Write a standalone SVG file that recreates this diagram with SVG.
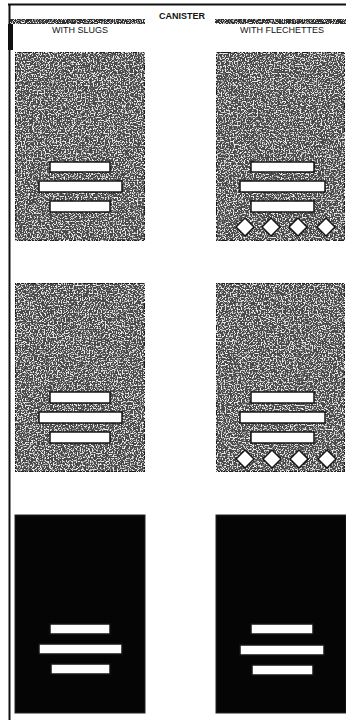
<svg xmlns="http://www.w3.org/2000/svg" width="346" height="723" viewBox="0 0 346 723">
  <defs>
    <filter id="grain" x="0" y="0" width="100%" height="100%">
      <feTurbulence type="fractalNoise" baseFrequency="0.75" numOctaves="2" seed="7" result="n"/>
      <feColorMatrix in="n" type="matrix" values="0 0 0 0 0.85  0 0 0 0 0.85  0 0 0 0 0.85  0 0 0 6 -3.0" result="w"/>
      <feComposite in="w" in2="SourceGraphic" operator="in" result="wc"/>
      <feMerge><feMergeNode in="SourceGraphic"/><feMergeNode in="wc"/></feMerge>
    </filter>
    <filter id="band" x="0" y="0" width="100%" height="100%">
      <feTurbulence type="fractalNoise" baseFrequency="0.9" numOctaves="2" seed="2" result="n"/>
      <feColorMatrix in="n" type="matrix" values="0 0 0 0 1  0 0 0 0 1  0 0 0 0 1  0 0 0 5 -2.6" result="w"/>
      <feComposite in="w" in2="SourceGraphic" operator="in" result="wc"/>
      <feMerge><feMergeNode in="SourceGraphic"/><feMergeNode in="wc"/></feMerge>
    </filter>
  </defs>
  <style>
    .gray { fill: #4a4a4a; stroke: #111; stroke-width: 1.5; filter: url(#grain); }
    .dark { fill: #050505; stroke: #222; stroke-width: 1; }
    .bar { fill: #fff; stroke: #151515; stroke-width: 1.5; }
    .dia { fill: #fff; stroke: #151515; stroke-width: 1.5; }
    .hdr { font-family: "Liberation Sans", Arial, sans-serif; font-size: 9px; fill: #111; text-anchor: middle; }
    .frame { stroke: #111; fill: none; }
  </style>
  <rect width="346" height="723" fill="#fff"/>

  <g id="frame">
    <line class="frame" x1="8" y1="4.5" x2="346" y2="4.5" stroke-width="2"/>
    <line class="frame" x1="9.5" y1="4" x2="9.5" y2="720" stroke-width="2"/>
    <rect x="8" y="24" width="5" height="26" fill="#111"/>
    <rect x="10" y="19" width="135" height="5" fill="#333" filter="url(#band)"/>
    <rect x="215" y="19" width="131" height="5" fill="#333" filter="url(#band)"/>
  </g>

  <g id="labels">
    <text class="hdr" x="182" y="19" font-weight="bold" font-size="9.5">CANISTER</text>
    <text class="hdr" x="80" y="33" font-size="8.5">WITH SLUGS</text>
    <text class="hdr" x="282" y="33" font-size="8.5">WITH FLECHETTES</text>
  </g>

  <g id="slugs-1">
    <rect class="gray" x="15" y="52" width="130" height="189"/>
    <rect class="bar" x="50" y="162" width="60" height="10"/>
    <rect class="bar" x="39" y="181" width="83" height="11"/>
    <rect class="bar" x="50" y="201" width="60" height="11"/>
  </g>

  <g id="flechettes-1">
    <rect class="gray" x="216" y="52" width="129" height="189"/>
    <rect class="bar" x="251" y="162" width="63" height="10"/>
    <rect class="bar" x="240" y="181" width="85" height="11"/>
    <rect class="bar" x="251" y="201" width="63" height="11"/>
    <path class="dia" d="M245 218 L254 227 L245 236 L236 227 Z"/>
    <path class="dia" d="M271 218 L280 227 L271 236 L262 227 Z"/>
    <path class="dia" d="M298 218 L307 227 L298 236 L289 227 Z"/>
    <path class="dia" d="M326 218 L335 227 L326 236 L317 227 Z"/>
  </g>

  <g id="slugs-2">
    <rect class="gray" x="15" y="283" width="130" height="189"/>
    <rect class="bar" x="50" y="392" width="60" height="11"/>
    <rect class="bar" x="39" y="412" width="83" height="11"/>
    <rect class="bar" x="50" y="432" width="60" height="11"/>
  </g>

  <g id="flechettes-2">
    <rect class="gray" x="216" y="283" width="129" height="189"/>
    <rect class="bar" x="251" y="392" width="63" height="11"/>
    <rect class="bar" x="240" y="412" width="85" height="11"/>
    <rect class="bar" x="251" y="432" width="63" height="11"/>
    <path class="dia" d="M245 450 L254 459 L245 468 L236 459 Z"/>
    <path class="dia" d="M272 450 L281 459 L272 468 L263 459 Z"/>
    <path class="dia" d="M299 450 L308 459 L299 468 L290 459 Z"/>
    <path class="dia" d="M327 450 L336 459 L327 468 L318 459 Z"/>
  </g>

  <g id="slugs-3">
    <rect class="dark" x="15" y="515" width="130" height="198"/>
    <rect class="bar" x="50" y="624" width="60" height="10"/>
    <rect class="bar" x="39" y="644" width="83" height="10"/>
    <rect class="bar" x="51" y="664" width="59" height="10"/>
  </g>

  <g id="flechettes-3">
    <rect class="dark" x="216" y="515" width="130" height="198"/>
    <rect class="bar" x="251" y="624" width="62" height="10"/>
    <rect class="bar" x="240" y="645" width="84" height="10"/>
    <rect class="bar" x="252" y="665" width="61" height="10"/>
  </g>
</svg>
